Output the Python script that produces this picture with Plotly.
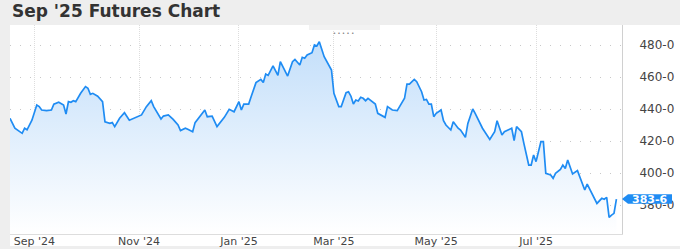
import plotly.graph_objects as go

TITLE = "Sep '25 Futures Chart"

dates = [
    "2024-08-19", "2024-08-21", "2024-08-26", "2024-08-27", "2024-08-28", "2024-08-30",
    "2024-09-04", "2024-09-05", "2024-09-06", "2024-09-10", "2024-09-12", "2024-09-13",
    "2024-09-17", "2024-09-19", "2024-09-20", "2024-09-23", "2024-09-24", "2024-09-25",
    "2024-09-26", "2024-09-30", "2024-10-02", "2024-10-03", "2024-10-04", "2024-10-07",
    "2024-10-09", "2024-10-11", "2024-10-14", "2024-10-16", "2024-10-17", "2024-10-18",
    "2024-10-22", "2024-10-24", "2024-10-28", "2024-10-31", "2024-11-04", "2024-11-06",
    "2024-11-08", "2024-11-11", "2024-11-14", "2024-11-15", "2024-11-19", "2024-11-21",
    "2024-11-25", "2024-11-26", "2024-11-29", "2024-12-02", "2024-12-04", "2024-12-05",
    "2024-12-09", "2024-12-11", "2024-12-12", "2024-12-16", "2024-12-18", "2024-12-20",
    "2024-12-23", "2024-12-26", "2024-12-30", "2025-01-02", "2025-01-03", "2025-01-06",
    "2025-01-08", "2025-01-10", "2025-01-14", "2025-01-16", "2025-01-17", "2025-01-21",
    "2025-01-22", "2025-01-24", "2025-01-28", "2025-01-29", "2025-02-03", "2025-02-05",
    "2025-02-06", "2025-02-10", "2025-02-11", "2025-02-12", "2025-02-13", "2025-02-18",
    "2025-02-19", "2025-02-20", "2025-02-21", "2025-02-25", "2025-02-26", "2025-02-28",
    "2025-03-03", "2025-03-05", "2025-03-06", "2025-03-10", "2025-03-11", "2025-03-12",
    "2025-03-13", "2025-03-14", "2025-03-17", "2025-03-18", "2025-03-19", "2025-03-20",
    "2025-03-21", "2025-03-25", "2025-03-26", "2025-03-27", "2025-03-31", "2025-04-01",
    "2025-04-02", "2025-04-04", "2025-04-08", "2025-04-09", "2025-04-11", "2025-04-14",
    "2025-04-15", "2025-04-17", "2025-04-21", "2025-04-23", "2025-04-24", "2025-04-25",
    "2025-04-28", "2025-04-29", "2025-04-30", "2025-05-01", "2025-05-05", "2025-05-06",
    "2025-05-07", "2025-05-09", "2025-05-12", "2025-05-14", "2025-05-15", "2025-05-19",
    "2025-05-20", "2025-05-22", "2025-05-23", "2025-05-29", "2025-06-03", "2025-06-05",
    "2025-06-06", "2025-06-10", "2025-06-11", "2025-06-16", "2025-06-17", "2025-06-18",
    "2025-06-23", "2025-06-24", "2025-06-25", "2025-06-26", "2025-06-27", "2025-06-30",
    "2025-07-01", "2025-07-03", "2025-07-07", "2025-07-08", "2025-07-10", "2025-07-11",
    "2025-07-14", "2025-07-16", "2025-07-17", "2025-07-18", "2025-07-21", "2025-07-22",
    "2025-07-23", "2025-07-25", "2025-07-28", "2025-07-30", "2025-07-31", "2025-08-04",
    "2025-08-06", "2025-08-08", "2025-08-11", "2025-08-12", "2025-08-13", "2025-08-14",
    "2025-08-15", "2025-08-18",
]

prices = [
    434.2, 428.0, 424.8, 428.0, 427.0, 433.0,
    442.5, 441.5, 439.4, 439.0, 439.4, 443.0,
    444.2, 442.5, 436.9, 444.6, 444.2, 445.2,
    444.6, 449.8, 454.0, 453.0, 449.2, 449.8,
    448.0, 444.6, 432.0, 431.0, 431.5, 429.0,
    434.2, 437.7, 433.0, 434.8, 436.3, 441.5,
    445.2, 441.5, 433.75, 435.6, 436.3, 433.5,
    430.0, 426.5, 428.0, 427.3, 425.8, 431.5,
    435.6, 439.4, 435.2, 435.6, 429.0, 432.7,
    434.8, 439.8, 438.3, 444.6, 439.4, 443.1,
    443.1, 447.7, 456.5, 458.5, 456.5, 461.9,
    461.0, 466.9, 461.0, 469.6, 460.6, 469.6,
    471.0, 467.5, 472.3, 471.7, 473.75, 475.2,
    480.0, 479.4, 482.0, 472.7, 470.2, 464.4,
    449.8, 441.5, 441.5, 450.2, 450.8, 448.0,
    443.1, 445.6, 445.0, 447.3, 446.7, 445.2,
    446.7, 444.6, 443.1, 437.3, 435.6, 434.8,
    441.5, 439.4, 439.0, 441.9, 446.7, 455.6,
    455.6, 458.5, 457.1, 450.8, 445.6, 446.0,
    443.1, 443.1, 435.2, 437.3, 439.4, 432.7,
    430.0, 426.9, 432.0, 428.0, 426.9, 422.3,
    431.0, 440.0, 437.3, 428.0, 421.0, 425.8,
    432.7, 423.75, 425.8, 428.0, 420.2, 429.0,
    425.8, 418.5, 412.3, 405.0, 405.0, 411.25,
    407.1, 419.6, 419.6, 399.8, 398.75, 396.7,
    399.8, 402.3, 405.0, 402.9, 408.1, 403.9,
    399.4, 401.5, 397.7, 389.4, 393.1, 387.3,
    381.0, 384.2, 383.6, 384.8, 372.3, 373.75,
    374.8, 383.75,
]

holidays = [
    "2024-09-02", "2024-11-28", "2024-12-25", "2025-01-01", "2025-01-09",
    "2025-01-20", "2025-02-17", "2025-04-18", "2025-05-26", "2025-06-19", "2025-07-04",
]

y_ticks = [380, 400, 420, 440, 460, 480]
x_range = ["2024-08-19", "2025-08-20 07:00"]
y_range = [361.9, 492.5]


def fmt_eighths(v):
    whole = int(v)
    eighths = int(round((v - whole) * 8))
    return f"{whole}-{eighths}"


W, H = 680, 249
ML, MR, MT, MB = 10, 58, 25, 15
PW = W - ML - MR
PH = H - MT - MB

BLUE = "#1f8cf3"

fig = go.Figure()
fig.add_trace(go.Scatter(
    x=dates, y=prices, mode="lines",
    line=dict(color=BLUE, width=1.7),
    fill="tozeroy",
    fillgradient=dict(type="vertical",
                      colorscale=[[0, "rgba(255,255,255,1)"], [1, "rgba(194,222,250,1)"]],
                      start=y_range[0], stop=485),
    hoverinfo="skip",
))

# price tag for the last value
last = prices[-1]
px_to_y = (y_range[1] - y_range[0]) / PH
half = 4.8 * px_to_y
tip = 1.0
body0 = 1 + 6 / PW
body1 = 1 + 50 / PW
fig.add_shape(type="path", xref="paper", yref="y",
              path=f"M {tip} {last} L {body0} {last + half} L {body1} {last + half} "
                   f"L {body1} {last - half} L {body0} {last - half} Z",
              fillcolor=BLUE, line=dict(width=0), layer="above")
fig.add_annotation(x=(body0 + body1) / 2, y=last, xref="paper", yref="y",
                   xanchor="center", yanchor="middle",
                   text=fmt_eighths(last), showarrow=False,
                   font=dict(family="DejaVu Sans", size=11, color="white", weight="bold"))

# white chart panel
fig.add_shape(type="rect", xref="paper", yref="paper",
              x0=0, x1=(W - ML) / PW, y0=-(246 - (MT + PH)) / PH, y1=1,
              fillcolor="white", line=dict(width=0), layer="below")
# drag handle tab
fig.add_shape(type="rect", xref="paper", yref="paper",
              x0=(309 - ML) / PW, x1=(380 - ML) / PW, y0=1 - 5 / PH, y1=1,
              fillcolor="#f2f2f2", line=dict(width=0), layer="above")
fig.add_annotation(x=(344 - ML) / PW, y=1 - 2.5 / PH, xref="paper", yref="paper",
                   text="\u2022 \u2022 \u2022 \u2022 \u2022", showarrow=False,
                   font=dict(family="DejaVu Sans", size=5, color="#666"))

fig.add_annotation(x=0, y=1 + (MT - 11) / PH, xref="paper", yref="paper",
                   xanchor="left", yanchor="middle", text=TITLE, showarrow=False,
                   font=dict(family="DejaVu Sans", size=17, color="#333", weight="bold"))

fig.update_layout(
    width=W, height=H,
    margin=dict(l=ML, r=MR, t=MT, b=MB, autoexpand=False),
    paper_bgcolor="#eeeeee", plot_bgcolor="white",
    showlegend=False, hovermode=False,
    xaxis=dict(
        type="date", range=x_range, automargin=False,
        rangebreaks=[dict(bounds=["sat", "mon"]), dict(values=holidays)],
        tick0="2024-09-01", dtick="M2", tickformat="%b '%y",
        showgrid=True, gridcolor="#dddddd", griddash="1px,1px", gridwidth=1,
        showline=True, linecolor="#dddddd", linewidth=1,
        ticks="", ticklabelstandoff=-3,
        tickfont=dict(family="DejaVu Sans", size=11, color="#444"),
        zeroline=False, fixedrange=True,
    ),
    yaxis=dict(
        range=y_range, side="right", automargin=False,
        tickvals=y_ticks, ticktext=[fmt_eighths(v) for v in y_ticks],
        showgrid=True, gridcolor="#c8c8c8", griddash="1px,9px", gridwidth=1,
        showline=True, linecolor="#d0d0d0", linewidth=1,
        ticks="outside", ticklen=14, tickcolor="rgba(0,0,0,0)",
        tickfont=dict(family="DejaVu Sans", size=12, color="#444"),
        zeroline=False, fixedrange=True,
    ),
)

fig.write_html("out.html", config={"displayModeBar": False})
